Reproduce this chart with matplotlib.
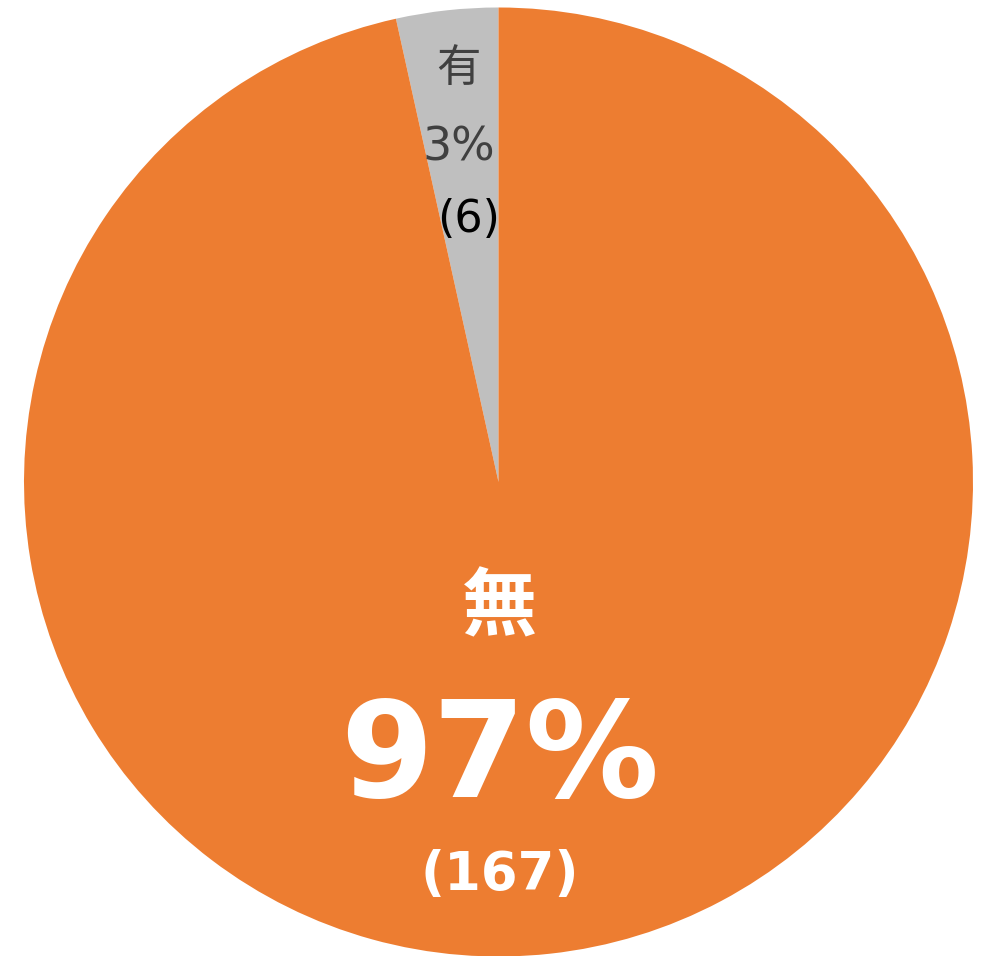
import matplotlib.pyplot as plt

labels = ['有', '無']
counts = [6, 167]
percents = ['3%', '97%']
colors = ['#BFBFBF', '#ED7D31']

W, H = 981, 956
cx, cy, r = 498.5, H - 482, 474.5

fig = plt.figure(figsize=(W / 100, H / 100), dpi=100)
ax = fig.add_axes([0, 0, 1, 1])
ax.pie(counts, colors=colors, startangle=90, counterclock=True,
       center=(cx, cy), radius=r, wedgeprops=dict(linewidth=0))
ax.set_xlim(0, W)
ax.set_ylim(0, H)
ax.set_aspect('equal')
ax.axis('off')

fam = ['DejaVu Sans', 'Noto Sans CJK JP']

# 有 (small slice)
ax.text(cx - 40, H - 68, labels[0], ha='center', va='center', fontsize=32,
        color='#404040', family=fam)
ax.text(cx - 40, H - 148, percents[0], ha='center', va='center', fontsize=33,
        color='#404040', family=fam)
ax.text(cx - 30, H - 219, '(%d)' % counts[0], ha='center', va='center', fontsize=32,
        color='black', family=fam)

# 無 (large slice)
ax.text(cx + 1, H - 610, labels[1], ha='center', va='center', fontsize=54,
        color='white', fontweight='bold', family=fam)
ax.text(cx + 1, H - 760, percents[1], ha='center', va='center', fontsize=96,
        color='white', fontweight='bold', family=fam)
ax.text(cx + 1, H - 875, '(%d)' % counts[1], ha='center', va='center', fontsize=38,
        color='white', fontweight='bold', family=fam)

fig.savefig('out.png', dpi=100)
